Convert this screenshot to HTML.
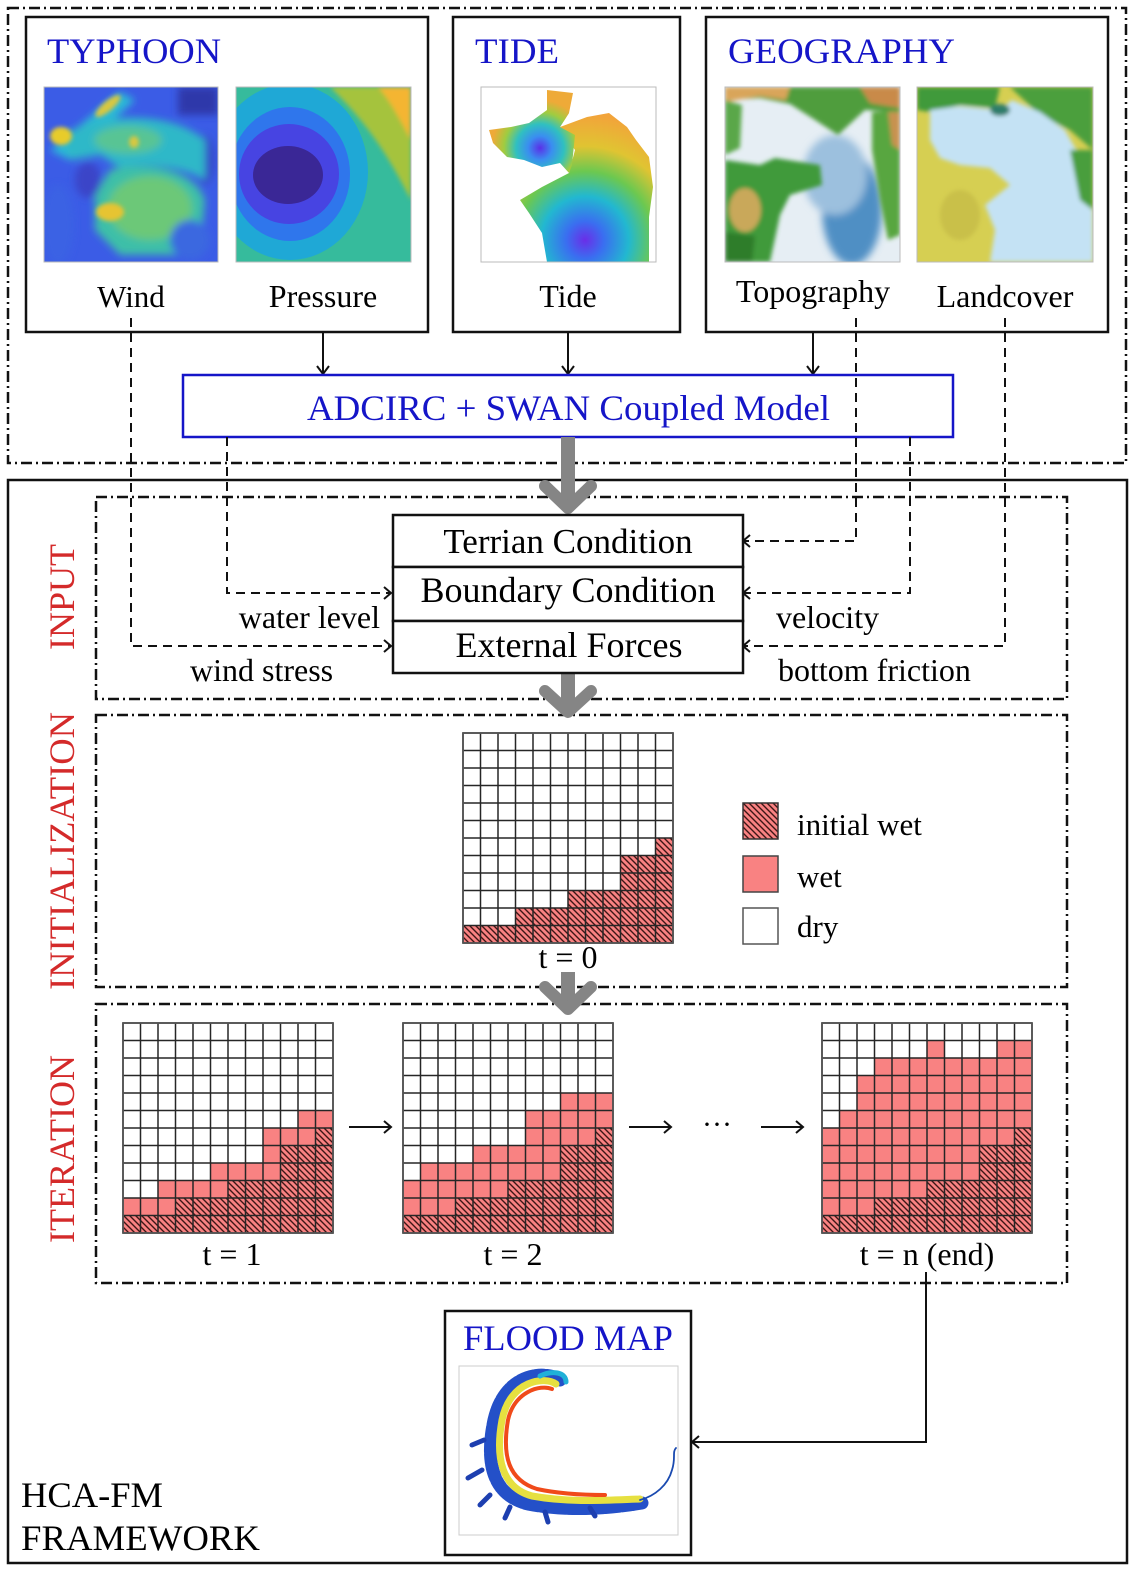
<!DOCTYPE html>
<html><head><meta charset="utf-8">
<style>
html,body{margin:0;padding:0;background:#fff}
svg{display:block}
text{font-family:"Liberation Serif","Times New Roman",serif;}
</style></head><body>
<svg width="1137" height="1573" viewBox="0 0 1137 1573" xmlns="http://www.w3.org/2000/svg">
<defs>
<pattern id="hatch" patternUnits="userSpaceOnUse" width="6" height="6">
 <rect width="6" height="6" fill="#f98282"/>
 <path d="M0,0L6,6M-3,3L3,9M3,-3L9,3" stroke="#3d1616" stroke-width="1.4"/>
</pattern>
<g id="gridlines">
 <path d="M0 0V210M17.5 0V210M35 0V210M52.5 0V210M70 0V210M87.5 0V210M105 0V210M122.5 0V210M140 0V210M157.5 0V210M175 0V210M192.5 0V210M210 0V210M0 0H210M0 17.5H210M0 35H210M0 52.5H210M0 70H210M0 87.5H210M0 105H210M0 122.5H210M0 140H210M0 157.5H210M0 175H210M0 192.5H210M0 210H210" stroke="#262626" stroke-width="1.5" fill="none"/>
 <rect x="0" y="0" width="210" height="210" fill="none" stroke="#555" stroke-width="1.8"/>
</g>
<filter id="blur4" x="-10%" y="-10%" width="120%" height="120%"><feGaussianBlur stdDeviation="4"/></filter>
<filter id="blur2" x="-10%" y="-10%" width="120%" height="120%"><feGaussianBlur stdDeviation="2"/></filter>
<clipPath id="cWind"><rect x="44" y="87" width="174" height="175"/></clipPath>
<clipPath id="cPres"><rect x="236" y="87" width="175" height="175"/></clipPath>
<clipPath id="cTopo"><rect x="725" y="87" width="175" height="175"/></clipPath>
<clipPath id="cLand"><rect x="917" y="87" width="176" height="175"/></clipPath>
<clipPath id="cTide"><rect x="481" y="87" width="175" height="175"/></clipPath>
<radialGradient id="tideG" gradientUnits="userSpaceOnUse" cx="585" cy="240" r="125">
 <stop offset="0" stop-color="#6a2ee8"/>
 <stop offset="0.15" stop-color="#3a6ef0"/>
 <stop offset="0.35" stop-color="#22b8d0"/>
 <stop offset="0.55" stop-color="#6cc850"/>
 <stop offset="0.75" stop-color="#e0c432"/>
 <stop offset="1" stop-color="#f2a43a"/>
</radialGradient>
<radialGradient id="tideG2" gradientUnits="userSpaceOnUse" cx="540" cy="148" r="48">
 <stop offset="0" stop-color="#5a30e8"/>
 <stop offset="0.25" stop-color="#3a8ef0"/>
 <stop offset="0.5" stop-color="#30c0c0"/>
 <stop offset="0.75" stop-color="#a0cc40"/>
 <stop offset="1" stop-color="#eeaa38"/>
</radialGradient>
</defs>

<rect width="1137" height="1573" fill="#fff"/>

<!-- top dash-dot box -->
<rect x="8" y="8" width="1118" height="455" fill="none" stroke="#111" stroke-width="2.5" stroke-dasharray="11 4 2 4"/>

<!-- TYPHOON box -->
<rect x="26" y="17" width="402" height="315" fill="none" stroke="#111" stroke-width="2.5"/>
<text x="47" y="63" font-size="36" fill="#1515c8" textLength="174" lengthAdjust="spacingAndGlyphs">TYPHOON</text>

<!-- Wind image -->
<g clip-path="url(#cWind)">
 <rect x="44" y="87" width="174" height="175" fill="#3b5ce6"/>
 <g filter="url(#blur4)">
  <rect x="178" y="87" width="40" height="28" fill="#2d37aa"/>
  <ellipse cx="205" cy="160" rx="10" ry="25" fill="#3548c8"/>
  <path d="M50,150 L120,92 L135,100 L70,160 Z" fill="#2cbad6"/>
  <path d="M62,135 C100,112 170,110 205,140 L205,180 C185,168 150,162 120,168 L100,155 L70,160 Z" fill="#2eb8c8"/>
  <path d="M110,170 C150,160 195,170 205,200 L200,255 L120,255 L95,230 L95,195 Z" fill="#3cbfa8"/>
  <ellipse cx="150" cy="208" rx="42" ry="32" fill="#6cc878"/>
  <ellipse cx="128" cy="140" rx="34" ry="14" fill="#58c494"/>
  <ellipse cx="88" cy="180" rx="13" ry="18" fill="#3a44c8"/>
  <ellipse cx="58" cy="225" rx="16" ry="40" fill="#3a62e4"/>
  <ellipse cx="190" cy="240" rx="20" ry="20" fill="#3a68e0"/>
 </g>
 <g filter="url(#blur2)">
  <ellipse cx="61" cy="136" rx="11" ry="9" fill="#e8cc2c"/>
  <ellipse cx="108" cy="106" rx="16" ry="5" fill="#d8c840" transform="rotate(-40 108 106)"/>
  <ellipse cx="110" cy="212" rx="14" ry="9" fill="#e6c430"/>
  <ellipse cx="134" cy="142" rx="5" ry="6" fill="#d8c840"/>
 </g>
</g>
<rect x="44" y="87" width="174" height="175" fill="none" stroke="#bbb" stroke-width="1"/>

<!-- Pressure image -->
<g clip-path="url(#cPres)">
 <rect x="236" y="87" width="175" height="175" fill="#36bb9c"/>
 <g filter="url(#blur2)">
  <path d="M330,87 L411,87 L411,200 C395,170 375,130 330,87 Z" fill="#a5c33c"/>
  <path d="M378,87 L411,87 L411,140 C400,120 390,100 378,87 Z" fill="#f4b531"/>
 </g>
 <ellipse cx="290" cy="172" rx="78" ry="88" fill="#1fa8d6"/>
 <ellipse cx="290" cy="174" rx="60" ry="67" fill="#2f76ec"/>
 <ellipse cx="289" cy="174" rx="50" ry="50" fill="#4744e2"/>
 <ellipse cx="288" cy="175" rx="35" ry="29" fill="#3a2796"/>
</g>
<rect x="236" y="87" width="175" height="175" fill="none" stroke="#bbb" stroke-width="1"/>

<text x="131" y="307" font-size="31" text-anchor="middle">Wind</text>
<text x="323" y="307" font-size="32" text-anchor="middle">Pressure</text>

<!-- TIDE box -->
<rect x="453" y="17" width="227" height="315" fill="none" stroke="#111" stroke-width="2.5"/>
<text x="475" y="63" font-size="36" fill="#1515c8" textLength="84" lengthAdjust="spacingAndGlyphs">TIDE</text>
<g clip-path="url(#cTide)">
 <rect x="481" y="87" width="175" height="175" fill="#fff"/>
 <path d="M547,110 L569,113 L560,127 L587,117 L609,113 L627,127 L636,140 L649,157 L653,187 L649,217 L649,262 L547,262 L542,233 L529,213 L520,200 L542,187 L569,173 L575,150 Z" fill="url(#tideG)"/>
 <path d="M547,90 L573,93 L569,113 L560,127 L575,135 L572,165 L569,173 L560,163 L542,167 L524,160 L507,157 L493,143 L489,130 L511,127 L529,123 L547,110 Z" fill="url(#tideG2)"/>
</g>
<rect x="481" y="87" width="175" height="175" fill="none" stroke="#bbb" stroke-width="1"/>
<text x="568" y="307" font-size="32" text-anchor="middle">Tide</text>

<!-- GEOGRAPHY box -->
<rect x="706" y="17" width="402" height="315" fill="none" stroke="#111" stroke-width="2.5"/>
<text x="728" y="63" font-size="36" fill="#1515c8" textLength="227" lengthAdjust="spacingAndGlyphs">GEOGRAPHY</text>

<!-- Topography image -->
<g clip-path="url(#cTopo)">
 <rect x="725" y="87" width="175" height="175" fill="#e6eef4"/>
 <g filter="url(#blur4)">
  <ellipse cx="852" cy="210" rx="30" ry="55" fill="#4f8fc4"/>
  <ellipse cx="835" cy="175" rx="32" ry="40" fill="#9cc0de"/>
 </g>
 <g filter="url(#blur2)">
  <path d="M725,87 L900,87 L900,112 L865,110 L838,135 L812,118 L790,104 L760,98 L725,100 Z" fill="#4f9d3c"/>
  <path d="M725,87 L790,87 L786,100 L760,96 L725,102 Z" fill="#d9a55a"/>
  <path d="M860,87 L900,87 L900,108 L870,103 Z" fill="#c98a48"/>
  <path d="M725,160 L760,165 L775,158 L820,165 L822,185 L790,195 L780,215 L770,262 L725,262 Z" fill="#3f9a3a"/>
  <ellipse cx="745" cy="210" rx="16" ry="22" fill="#c9a85a"/>
  <path d="M725,232 L755,236 L752,262 L725,262 Z" fill="#2f7d2a"/>
  <path d="M872,112 L900,110 L900,235 L888,240 L880,200 L872,150 Z" fill="#58a640"/>
  <path d="M888,112 L900,112 L900,150 L892,145 Z" fill="#c89250"/>
  <path d="M725,100 L742,105 L740,148 L725,155 Z" fill="#5aa748"/>
 </g>
</g>
<rect x="725" y="87" width="175" height="175" fill="none" stroke="#bbb" stroke-width="1"/>

<!-- Landcover image -->
<g clip-path="url(#cLand)">
 <rect x="917" y="87" width="176" height="175" fill="#d6cf52"/>
 <g filter="url(#blur2)">
  <path d="M917,87 L1000,87 L995,108 L960,105 L930,112 L917,110 Z" fill="#3f9a3a"/>
  <path d="M1010,87 L1093,87 L1093,150 L1070,130 L1040,115 Z" fill="#4c9f3c"/>
  <path d="M930,110 L960,106 L1000,110 L1012,100 L1040,112 L1065,130 L1082,160 L1093,170 L1093,262 L990,262 L995,230 L985,205 L1010,185 L990,168 L960,165 L940,158 L930,140 Z" fill="#c4e2f4"/>
  <path d="M1070,150 L1093,150 L1093,210 L1080,200 Z" fill="#4a9e3c"/>
  <ellipse cx="960" cy="215" rx="20" ry="25" fill="#c9c04a"/>
  <ellipse cx="1000" cy="110" rx="10" ry="6" fill="#2f7d6a"/>
 </g>
</g>
<rect x="917" y="87" width="176" height="175" fill="none" stroke="#bbb" stroke-width="1"/>

<text x="813" y="302" font-size="32" text-anchor="middle">Topography</text>
<text x="1005" y="307" font-size="32" text-anchor="middle">Landcover</text>

<!-- black arrows to ADCIRC -->
<g stroke="#111" stroke-width="2" fill="none">
 <path d="M323,332 V374 M317,366 L323,374 L329,366"/>
 <path d="M568,332 V374 M562,366 L568,374 L574,366"/>
 <path d="M813,332 V374 M807,366 L813,374 L819,366"/>
</g>

<!-- ADCIRC box -->
<rect x="183" y="375" width="770" height="62" fill="#fff" stroke="#1515c8" stroke-width="2.5"/>
<text x="307" y="420" font-size="36" fill="#1515c8" textLength="523" lengthAdjust="spacingAndGlyphs">ADCIRC + SWAN Coupled Model</text>

<!-- bottom outer box -->
<rect x="8" y="480" width="1119" height="1083" fill="none" stroke="#111" stroke-width="2.5"/>

<!-- section dash-dot boxes -->
<g fill="none" stroke="#111" stroke-width="2.5" stroke-dasharray="11 4 2 4">
 <rect x="96" y="497" width="971" height="202"/>
 <rect x="96" y="715" width="971" height="272"/>
 <rect x="96" y="1004" width="971" height="279"/>
</g>

<!-- dashed connectors -->
<g fill="none" stroke="#111" stroke-width="2" stroke-dasharray="9 6">
 <path d="M131,318 V646 H390"/>
 <path d="M227,437 V593 H390"/>
 <path d="M856,318 V541 H744"/>
 <path d="M910,437 V593 H744"/>
 <path d="M1005,318 V646 H744"/>
</g>
<g fill="none" stroke="#111" stroke-width="2">
 <path d="M384,587 L391,593 L384,599"/>
 <path d="M384,640 L391,646 L384,652"/>
 <path d="M750,535 L743,541 L750,547"/>
 <path d="M750,587 L743,593 L750,599"/>
 <path d="M750,640 L743,646 L750,652"/>
</g>

<!-- gray arrows -->
<g stroke="#858585" fill="none" stroke-linecap="round" stroke-linejoin="round">
 <path d="M568,437 V503" stroke-width="14" stroke-linecap="butt"/>
 <path d="M545,486 L568,508 L591,486" stroke-width="12"/>
 <path d="M568,673 V708" stroke-width="14" stroke-linecap="butt"/>
 <path d="M545,691 L568,712 L591,691" stroke-width="12"/>
 <path d="M568,972 V1005" stroke-width="14" stroke-linecap="butt"/>
 <path d="M545,987 L568,1009 L591,987" stroke-width="12"/>
</g>

<!-- condition boxes -->
<g fill="#fff" stroke="#111" stroke-width="2.5">
 <rect x="393" y="515" width="350" height="52"/>
 <rect x="393" y="567" width="350" height="54"/>
 <rect x="393" y="621" width="350" height="52"/>
</g>
<text x="568" y="553" font-size="35" text-anchor="middle">Terrian Condition</text>
<text x="568" y="602" font-size="36" text-anchor="middle">Boundary Condition</text>
<text x="569" y="657" font-size="36" text-anchor="middle">External Forces</text>

<text x="380" y="628" font-size="32" text-anchor="end">water level</text>
<text x="190" y="681" font-size="32">wind stress</text>
<text x="776" y="628" font-size="32">velocity</text>
<text x="778" y="681" font-size="32">bottom friction</text>

<!-- red vertical labels -->
<g fill="#d42a2a" font-size="36">
 <text transform="translate(74,597) rotate(-90)" text-anchor="middle">INPUT</text>
 <text transform="translate(74,851) rotate(-90)" text-anchor="middle" textLength="278" lengthAdjust="spacingAndGlyphs">INITIALIZATION</text>
 <text transform="translate(74,1149) rotate(-90)" text-anchor="middle">ITERATION</text>
</g>

<!-- t=0 grid -->
<g transform="translate(463,733)">
 <rect width="210" height="210" fill="#fff"/>
 <g fill="url(#hatch)">
  <rect x="0" y="192.5" width="52.5" height="17.5"/>
  <rect x="52.5" y="175" width="52.5" height="35"/>
  <rect x="105" y="157.5" width="52.5" height="52.5"/>
  <rect x="157.5" y="122.5" width="35" height="87.5"/>
  <rect x="192.5" y="105" width="17.5" height="105"/>
 </g>
 <use href="#gridlines"/>
</g>
<text x="568" y="968" font-size="32" text-anchor="middle">t = 0</text>

<!-- legend -->
<rect x="743" y="803" width="35" height="36" fill="url(#hatch)" stroke="#333" stroke-width="1.5"/>
<rect x="743" y="856" width="35" height="36" fill="#f98282" stroke="#444" stroke-width="1.5"/>
<rect x="743" y="908" width="35" height="36" fill="#fff" stroke="#555" stroke-width="1.5"/>
<text x="797" y="835" font-size="31">initial wet</text>
<text x="797" y="887" font-size="31">wet</text>
<text x="797" y="937" font-size="31">dry</text>

<!-- t=1 grid -->
<g transform="translate(123,1023)">
 <rect width="210" height="210" fill="#fff"/>
 <g fill="#f98282">
  <rect x="0" y="175" width="35" height="35"/>
  <rect x="35" y="157.5" width="52.5" height="52.5"/>
  <rect x="87.5" y="140" width="52.5" height="70"/>
  <rect x="140" y="105" width="35" height="105"/>
  <rect x="175" y="87.5" width="35" height="122.5"/>
 </g>
 <g fill="url(#hatch)">
  <rect x="0" y="192.5" width="52.5" height="17.5"/>
  <rect x="52.5" y="175" width="52.5" height="35"/>
  <rect x="105" y="157.5" width="52.5" height="52.5"/>
  <rect x="157.5" y="122.5" width="35" height="87.5"/>
  <rect x="192.5" y="105" width="17.5" height="105"/>
 </g>
 <use href="#gridlines"/>
</g>
<text x="232" y="1265" font-size="32" text-anchor="middle">t = 1</text>

<!-- t=2 grid -->
<g transform="translate(403,1023)">
 <rect width="210" height="210" fill="#fff"/>
 <g fill="#f98282">
  <rect x="0" y="157.5" width="17.5" height="52.5"/>
  <rect x="17.5" y="140" width="52.5" height="70"/>
  <rect x="70" y="122.5" width="52.5" height="87.5"/>
  <rect x="122.5" y="87.5" width="35" height="122.5"/>
  <rect x="157.5" y="70" width="52.5" height="140"/>
 </g>
 <g fill="url(#hatch)">
  <rect x="0" y="192.5" width="52.5" height="17.5"/>
  <rect x="52.5" y="175" width="52.5" height="35"/>
  <rect x="105" y="157.5" width="52.5" height="52.5"/>
  <rect x="157.5" y="122.5" width="35" height="87.5"/>
  <rect x="192.5" y="105" width="17.5" height="105"/>
 </g>
 <use href="#gridlines"/>
</g>
<text x="513" y="1265" font-size="32" text-anchor="middle">t = 2</text>

<!-- t=n grid -->
<g transform="translate(822,1023)">
 <rect width="210" height="210" fill="#fff"/>
 <g fill="#f98282">
  <rect x="0" y="105" width="17.5" height="105"/>
  <rect x="17.5" y="87.5" width="17.5" height="122.5"/>
  <rect x="35" y="52.5" width="17.5" height="157.5"/>
  <rect x="52.5" y="35" width="52.5" height="175"/>
  <rect x="105" y="17.5" width="17.5" height="192.5"/>
  <rect x="122.5" y="35" width="52.5" height="175"/>
  <rect x="175" y="17.5" width="35" height="192.5"/>
 </g>
 <g fill="url(#hatch)">
  <rect x="0" y="192.5" width="52.5" height="17.5"/>
  <rect x="52.5" y="175" width="52.5" height="35"/>
  <rect x="105" y="157.5" width="52.5" height="52.5"/>
  <rect x="157.5" y="122.5" width="35" height="87.5"/>
  <rect x="192.5" y="105" width="17.5" height="105"/>
 </g>
 <use href="#gridlines"/>
</g>
<text x="927" y="1265" font-size="32" text-anchor="middle">t = n (end)</text>

<!-- iteration arrows -->
<g stroke="#111" stroke-width="2" fill="none">
 <path d="M349,1127 H391 M384,1121 L391,1127 L384,1133"/>
 <path d="M629,1127 H671 M664,1121 L671,1127 L664,1133"/>
 <path d="M761,1127 H803 M796,1121 L803,1127 L796,1133"/>
</g>
<text x="717" y="1134" font-size="30" text-anchor="middle">···</text>

<!-- connector to flood map -->
<g stroke="#111" stroke-width="2" fill="none">
 <path d="M926,1272 V1442 H692"/>
 <path d="M699,1436 L692,1442 L699,1448"/>
</g>

<!-- flood map box -->
<rect x="445" y="1311" width="246" height="244" fill="#fff" stroke="#111" stroke-width="2.5"/>
<text x="568" y="1350" font-size="36" fill="#1515c8" text-anchor="middle" textLength="210" lengthAdjust="spacingAndGlyphs">FLOOD MAP</text>
<rect x="459" y="1366" width="219" height="169" fill="#fff" stroke="#ccc" stroke-width="1"/>
<g fill="none" stroke-linecap="round" stroke-linejoin="round">
 <path d="M560,1380 C545,1370 505,1372 494,1420 C485,1462 492,1495 528,1504 C570,1512 612,1508 642,1503" stroke="#2450c8" stroke-width="13" stroke-dasharray="14 3 8 2"/>
 <path d="M484,1440 L472,1445 M482,1470 L468,1478 M490,1495 L480,1505 M510,1507 L505,1518 M545,1512 L548,1522 M590,1508 L595,1516" stroke="#1d3fb0" stroke-width="5"/>
 <path d="M556,1384 C545,1376 510,1380 502,1420 C495,1458 502,1488 532,1496 C570,1503 610,1500 640,1499" stroke="#e6e040" stroke-width="7"/>
 <path d="M552,1389 C540,1384 514,1392 508,1420 C502,1455 508,1480 537,1489 C560,1494 585,1495 605,1495" stroke="#f04a1a" stroke-width="4"/>
 <path d="M540,1376 C552,1370 566,1372 566,1382" stroke="#20b0d8" stroke-width="5"/>
 <path d="M640,1500 C655,1496 668,1485 672,1470 C676,1458 672,1452 676,1448" stroke="#1a4ab0" stroke-width="1.8"/>
</g>

<!-- framework label -->
<text x="21" y="1507" font-size="36" textLength="142" lengthAdjust="spacingAndGlyphs">HCA-FM</text>
<text x="21" y="1550" font-size="36" textLength="239" lengthAdjust="spacingAndGlyphs">FRAMEWORK</text>

</svg>
</body></html>
